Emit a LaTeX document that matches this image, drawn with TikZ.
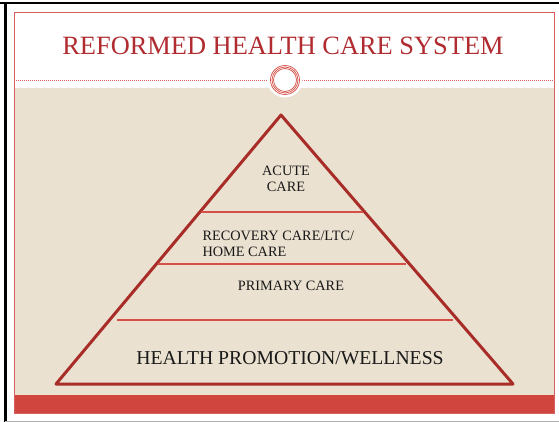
\documentclass[tikz,border=0pt]{standalone}
\usepackage{fontspec}
\setmainfont{Liberation Serif}
\definecolor{slidebg}{RGB}{235,225,208}
\definecolor{barred}{RGB}{208,69,61}
\definecolor{pyrred}{RGB}{168,45,40}
\definecolor{tierred}{RGB}{212,80,72}
\definecolor{titlered}{RGB}{176,44,48}
\definecolor{framered}{RGB}{214,96,96}
\begin{document}
\begin{tikzpicture}[x=1pt,y=-1pt]
\useasboundingbox (0,0) rectangle (559,422);
% slide frame and screen edges
\fill[white] (0,0) rectangle (559,422);
\draw[black, line width=2pt] (0,3) -- (559,3);
\draw[black, line width=2.5pt] (5.5,2) -- (5.5,422);
\draw[gray!60, line width=1pt] (5,421) -- (559,421);
\fill[slidebg] (14,88) rectangle (554,402);
\fill[barred] (14,395) rectangle (554,413);
\draw[framered, line width=0.8pt] (14,12.5) rectangle (554,413);
% title and divider
\node[text=titlered, font=\fontsize{26.4}{30}\selectfont] (title) at (283,46){REFORMED HEALTH CARE SYSTEM};
\draw[framered, dash pattern=on 1.2pt off 0.8pt, line width=0.8pt] (14,80.5) -- (268,80.5);
\draw[framered, dash pattern=on 1.2pt off 0.8pt, line width=0.8pt] (302,80.5) -- (554,80.5);
\fill[white] (285,80) circle (17.5);
\node[circle, draw=tierred, line width=0.7pt, minimum size=29pt, inner sep=0pt] (ring0) at (285,80){};
\node[circle, draw=tierred, line width=0.7pt, minimum size=26pt, inner sep=0pt] (ring1) at (285,80){};
\node[circle, draw=tierred, line width=0.7pt, minimum size=23pt, inner sep=0pt] (ring2) at (285,80){};
% pyramid
\coordinate (top) at (281,115);
\coordinate (bl) at (56,384);
\coordinate (br) at (513,384);
\draw[pyrred, line width=3pt, line join=round] (top) -- (br) -- (bl) -- cycle;
\coordinate (t1l) at (201,212);
\coordinate (t1r) at (363,212);
\coordinate (t2l) at (158,264);
\coordinate (t2r) at (406,264);
\coordinate (t3l) at (117,320);
\coordinate (t3r) at (453,320);
\draw[tierred, line width=1.3pt] (t1l) -- (t1r);
\draw[tierred, line width=1.3pt] (t2l) -- (t2r);
\draw[tierred, line width=1.3pt] (t3l) -- (t3r);
% tier labels
\node[align=center, font=\fontsize{14.3}{16}\selectfont, text=black!90] (acute) at (286,179){ACUTE\\CARE};
\node[align=left, anchor=west, font=\fontsize{14.3}{16}\selectfont, text=black!90] (recovery) at (199,244){RECOVERY CARE/LTC/\\HOME CARE};
\node[font=\fontsize{14.3}{16}\selectfont, text=black!90] (primary) at (291,286){PRIMARY CARE};
\node[font=\fontsize{19.7}{22}\selectfont, text=black!90] (wellness) at (290,358.5){HEALTH PROMOTION/WELLNESS};
\end{tikzpicture}
\end{document}
